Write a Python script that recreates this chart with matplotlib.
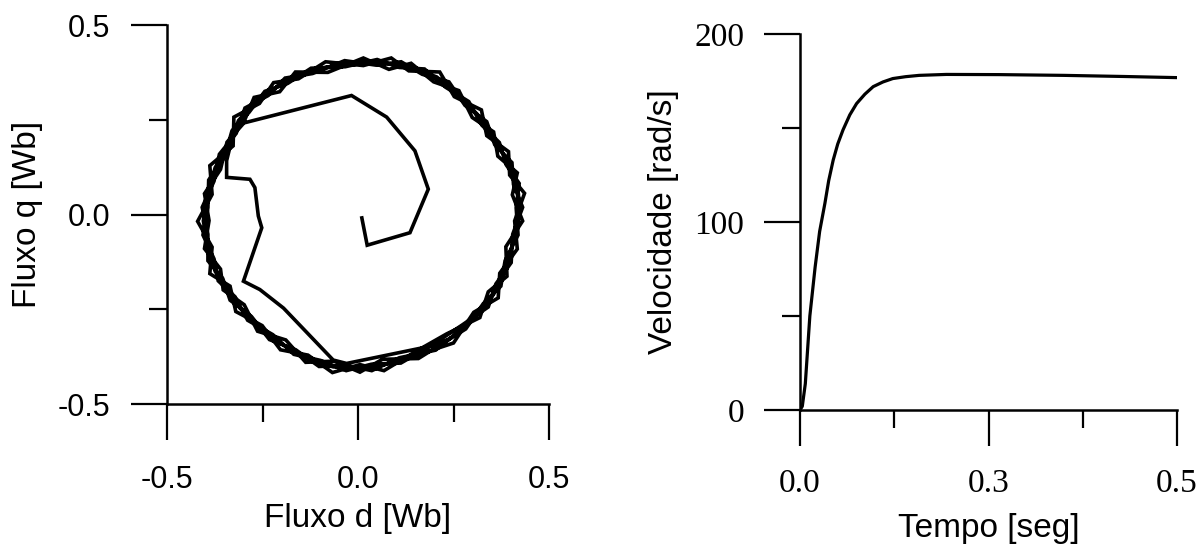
import numpy as np
import matplotlib
matplotlib.use("Agg")
import matplotlib.pyplot as plt
from matplotlib.ticker import FixedLocator, FixedFormatter

# ---- stator flux trajectory (d-q plane), start-up transient ----
startup_d = [0.010, 0.024, 0.136, 0.184, 0.149, 0.075, -0.017, -0.309, -0.330,
             -0.344, -0.344, -0.283, -0.270, -0.261, -0.252, -0.300, -0.257,
             -0.195, -0.065, -0.030, 0.206]
startup_q = [-0.009, -0.081, -0.048, 0.067, 0.168, 0.257, 0.314, 0.239, 0.200,
             0.142, 0.098, 0.093, 0.071, -0.004, -0.035, -0.176, -0.198,
             -0.247, -0.384, -0.393, -0.344]

# ---- steady-state loops of the flux vector ----
loop1_d = [0.241, 0.311, 0.354, 0.380, 0.402, 0.420, 0.420, 0.407, 0.380, 0.346,
           0.311, 0.258, 0.206, 0.136, 0.084, 0.014, -0.082, -0.160, -0.213, -0.265,
           -0.313, -0.335, -0.374, -0.392, -0.405, -0.392, -0.374, -0.344, -0.309, -0.257,
           -0.196, -0.134, -0.065, 0.005, 0.066, 0.154]
loop1_q = [-0.327, -0.265, -0.212, -0.159, -0.088, -0.017, 0.054, 0.107, 0.160, 0.213,
           0.266, 0.319, 0.363, 0.389, 0.398, 0.403, 0.389, 0.367, 0.336, 0.301,
           0.248, 0.186, 0.124, 0.054, -0.017, -0.088, -0.150, -0.194, -0.247, -0.300,
           -0.344, -0.380, -0.402, -0.406, -0.397, -0.371]

loop2_d = [0.250, 0.303, 0.367, 0.371, 0.417, 0.410, 0.436, 0.397, 0.394, 0.337,
           0.323, 0.252, 0.214, 0.133, 0.087, 0.014, -0.085, -0.156, -0.221, -0.258,
           -0.325, -0.327, -0.388, -0.382, -0.420, -0.382, -0.388, -0.335, -0.320, -0.251,
           -0.203, -0.131, -0.067, 0.005, 0.068, 0.150]
loop2_q = [-0.339, -0.258, -0.220, -0.155, -0.091, -0.017, 0.056, 0.104, 0.166, 0.208,
           0.276, 0.311, 0.376, 0.379, 0.413, 0.393, 0.403, 0.358, 0.348, 0.293,
           0.257, 0.181, 0.129, 0.053, -0.018, -0.086, -0.156, -0.189, -0.256, -0.293,
           -0.357, -0.371, -0.417, -0.396, -0.412, -0.362]

loop3_d = [0.232, 0.319, 0.341, 0.390, 0.387, 0.431, 0.404, 0.417, 0.366, 0.355,
           0.299, 0.264, 0.198, 0.139, 0.081, 0.014, -0.079, -0.164, -0.205, -0.272,
           -0.301, -0.343, -0.360, -0.402, -0.390, -0.402, -0.360, -0.353, -0.298, -0.263,
           -0.189, -0.137, -0.063, 0.005, 0.064, 0.158]
loop3_q = [-0.315, -0.272, -0.204, -0.163, -0.085, -0.017, 0.052, 0.110, 0.154, 0.218,
           0.256, 0.327, 0.350, 0.399, 0.383, 0.413, 0.375, 0.376, 0.324, 0.309,
           0.239, 0.191, 0.119, 0.055, -0.016, -0.090, -0.144, -0.199, -0.238, -0.308,
           -0.331, -0.390, -0.387, -0.416, -0.382, -0.380]

loop4_d = [0.282, 0.328, 0.374, 0.385, 0.419, 0.414, 0.422, 0.388, 0.370, 0.324,
           0.290, 0.229, 0.174, 0.108, 0.050, -0.033, -0.123, -0.184, -0.244, -0.285,
           -0.330, -0.349, -0.391, -0.393, -0.406, -0.377, -0.366, -0.322, -0.289, -0.223,
           -0.168, -0.098, -0.031, 0.035, 0.112, 0.195]
loop4_q = [-0.302, -0.235, -0.189, -0.122, -0.054, 0.018, 0.082, 0.131, 0.190, 0.236,
           0.298, 0.336, 0.384, 0.388, 0.409, 0.390, 0.386, 0.346, 0.325, 0.270,
           0.221, 0.153, 0.091, 0.018, -0.054, -0.117, -0.175, -0.217, -0.279, -0.317,
           -0.369, -0.385, -0.412, -0.395, -0.392, -0.344]

loop5_d = [0.272, 0.341, 0.361, 0.401, 0.405, 0.431, 0.407, 0.403, 0.358, 0.337,
           0.280, 0.238, 0.168, 0.113, 0.048, -0.035, -0.119, -0.191, -0.235, -0.296,
           -0.319, -0.363, -0.377, -0.408, -0.393, -0.393, -0.354, -0.335, -0.279, -0.232,
           -0.163, -0.102, -0.030, 0.036, 0.108, 0.203, 0.241]
loop5_q = [-0.292, -0.244, -0.183, -0.127, -0.052, 0.019, 0.079, 0.137, 0.184, 0.245,
           0.288, 0.350, 0.370, 0.403, 0.394, 0.406, 0.372, 0.360, 0.314, 0.281,
           0.214, 0.159, 0.088, 0.019, -0.052, -0.122, -0.169, -0.226, -0.269, -0.330,
           -0.357, -0.401, -0.398, -0.412, -0.378, -0.358, -0.327]

# ---- rotor speed during start-up ----
time_s = [0.0, 0.003, 0.007, 0.013, 0.020, 0.026, 0.033, 0.038, 0.044, 0.050,
          0.057, 0.066, 0.075, 0.086, 0.097, 0.110, 0.123, 0.140, 0.158, 0.194,
          0.264, 0.350, 0.430, 0.500]
speed = [0.0, 2.0, 14.0, 50.0, 76.0, 95.0, 110.0, 122.0, 133.0, 141.5,
         149.0, 157.0, 163.0, 168.0, 172.0, 174.5, 176.3, 177.3, 178.0, 178.5,
         178.4, 178.0, 177.4, 176.8]

flux_ticks = [-0.5, 0.0, 0.5]
flux_minor = [-0.25, 0.25]
flux_labels = ["-0.5", "0.0", "0.5"]
time_ticks = [0.0, 0.25, 0.5]
time_minor = [0.125, 0.375]
time_labels = ["0.0", "0.3", "0.5"]
speed_ticks = [0, 100, 200]
speed_minor = [50, 150]
speed_labels = ["0", "100", "200"]

SANS = ["Liberation Sans", "DejaVu Sans"]

fig = plt.figure(figsize=(12, 5.45), dpi=100)
fig.patch.set_facecolor("white")

ax1 = fig.add_axes([0.1392, 0.2587, 0.3183, 0.6954])
ax2 = fig.add_axes([0.6667, 0.2477, 0.3142, 0.6899])


def style_axes(ax, tick_font, tick_size, xpad, ypad):
    for side in ("top", "right"):
        ax.spines[side].set_visible(False)
    for side in ("left", "bottom"):
        ax.spines[side].set_linewidth(1.8)
        ax.spines[side].set_color("black")
        ax.spines[side].set_zorder(3)
    ax.tick_params(which="both", direction="out", width=1.6, colors="black",
                   labelsize=tick_size, labelfontfamily=tick_font)
    ax.tick_params(which="major", length=26)
    ax.tick_params(which="minor", length=13)
    ax.tick_params(axis="x", which="major", pad=xpad)
    ax.tick_params(axis="y", which="major", pad=ypad)
    ax.set_facecolor("white")


# left panel: flux trajectory
traj_d = startup_d + loop1_d + loop2_d + loop3_d + loop4_d + loop5_d
traj_q = startup_q + loop1_q + loop2_q + loop3_q + loop4_q + loop5_q
ax1.plot(traj_d, traj_q, color="black", lw=2.6, solid_joinstyle="miter")
ax1.set_xlim(-0.5, 0.5)
ax1.set_ylim(-0.5, 0.5)
ax1.xaxis.set_major_locator(FixedLocator(flux_ticks))
ax1.xaxis.set_major_formatter(FixedFormatter(flux_labels))
ax1.xaxis.set_minor_locator(FixedLocator(flux_minor))
ax1.yaxis.set_major_locator(FixedLocator(flux_ticks))
ax1.yaxis.set_major_formatter(FixedFormatter(flux_labels))
ax1.yaxis.set_minor_locator(FixedLocator(flux_minor))
style_axes(ax1, "Liberation Sans", 22, 18, 15)
ax1.set_xlabel("Fluxo d [Wb]", family=SANS, fontsize=24, va="center")
ax1.set_ylabel("Fluxo q [Wb]", family=SANS, fontsize=24, va="center")
ax1.xaxis.set_label_coords(0.5, -0.303)
ax1.yaxis.set_label_coords(-0.366, 0.5)

# right panel: speed
ax2.plot(time_s, speed, color="black", lw=2.3)
ax2.set_xlim(0.0, 0.5)
ax2.set_ylim(0, 200)
ax2.xaxis.set_major_locator(FixedLocator(time_ticks))
ax2.xaxis.set_major_formatter(FixedFormatter(time_labels))
ax2.xaxis.set_minor_locator(FixedLocator(time_minor))
ax2.yaxis.set_major_locator(FixedLocator(speed_ticks))
ax2.yaxis.set_major_formatter(FixedFormatter(speed_labels))
ax2.yaxis.set_minor_locator(FixedLocator(speed_minor))
style_axes(ax2, "Liberation Serif", 24, 16, 14)
ax2.set_xlabel("Tempo [seg]", family=SANS, fontsize=24, va="center")
ax2.set_ylabel("Velocidade [rad/s]", family=SANS, fontsize=24, va="center")
ax2.xaxis.set_label_coords(0.5, -0.314)
ax2.yaxis.set_label_coords(-0.361, 0.5)

fig.savefig("out.png", dpi=100, facecolor="white")
